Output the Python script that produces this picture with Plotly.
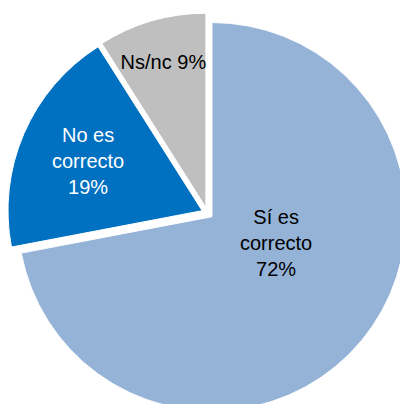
import plotly.graph_objects as go

labels = ["Sí es correcto", "No es correcto", "Ns/nc"]
values = [72, 19, 9]
texts = ["Sí es<br>correcto<br>72%", "No es<br>correcto<br>19%", "Ns/nc 9%"]
colors = ["#95B3D7", "#0070C0", "#BFBFBF"]
text_colors = ["#000000", "#FFFFFF", "#000000"]

W, H = 420, 424
FONT = "Liberation Sans, Arial, sans-serif"

# the largest slice's label is placed with an annotation (Excel-style placement)
slice_texts = [""] + texts[1:]

fig = go.Figure(go.Pie(
    labels=labels,
    values=values,
    text=slice_texts,
    textinfo="text",
    textposition="inside",
    insidetextorientation="horizontal",
    sort=False,
    direction="clockwise",
    rotation=0,
    pull=[0.03, 0.03, 0.03],
    marker=dict(colors=colors, line=dict(color="#FFFFFF", width=1)),
    insidetextfont=dict(family=FONT, size=20, color=text_colors),
    hoverinfo="none",
    showlegend=False,
    domain=dict(x=[7.5 / W, 407.5 / W], y=[1 - 413 / H, 1 - 13 / H]),
))

fig.add_annotation(
    x=276 / W, y=1 - 243 / H, xref="paper", yref="paper",
    text=texts[0], showarrow=False,
    font=dict(family=FONT, size=20, color=text_colors[0]),
    align="center", xanchor="center", yanchor="middle",
)

fig.update_layout(
    width=W, height=H,
    margin=dict(l=0, r=0, t=0, b=0),
    paper_bgcolor="#FFFFFF",
    plot_bgcolor="#FFFFFF",
    uniformtext=dict(minsize=20, mode="show"),
)

fig.write_html(
    "out.html",
    config={"displayModeBar": False},
    post_script="document.body.style.margin='0';document.body.style.overflow='hidden';document.documentElement.style.overflow='hidden';",
)
